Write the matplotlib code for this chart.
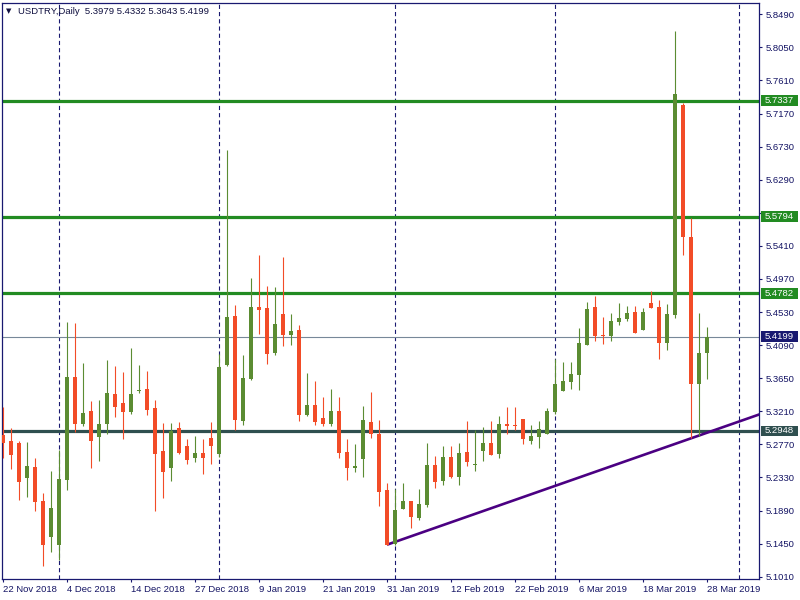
import matplotlib
matplotlib.use('Agg')
import matplotlib.pyplot as plt
import matplotlib.transforms as mtransforms
from matplotlib.patches import Rectangle
import numpy as np
import pandas as pd

plt.rcParams['font.family'] = ['Liberation Sans', 'DejaVu Sans']
plt.rcParams['lines.scale_dashes'] = False

# daily bars USDTRY, 22 Nov 2018 .. 28 Mar 2019 (no bars on 25 Dec and 1 Jan)
holidays = ['2018-12-25', '2019-01-01']
dates = pd.bdate_range('2018-11-22', '2019-03-28')
dates = dates[~dates.isin(pd.to_datetime(holidays))]

opens = [5.2895, 5.2815, 5.2788, 5.2327, 5.2469, 5.2017, 5.1542, 5.1436, 5.2300, 5.3666,
         5.3045, 5.3214, 5.2872, 5.3045, 5.3440, 5.3320, 5.3205, 5.3477, 5.3507, 5.3254,
         5.2682, 5.2460, 5.2988, 5.2749, 5.2593, 5.2655, 5.2855, 5.2646, 5.3830, 5.4477,
         5.3081, 5.3639, 5.4597, 5.4584, 5.3985, 5.4504, 5.4225, 5.4291, 5.3161, 5.3294,
         5.3121, 5.3041, 5.3214, 5.2669, 5.2460, 5.2580, 5.3068, 5.2908, 5.2163, 5.1449,
         5.1915, 5.2017, 5.1795, 5.1968, 5.2496, 5.2287, 5.2602, 5.2340, 5.2669, 5.2500,
         5.2686, 5.2788, 5.2646, 5.3041, 5.3028, 5.3108, 5.2819, 5.2872, 5.2912, 5.3201,
         5.3484, 5.3604, 5.3697, 5.4096, 5.4597, 5.4228, 5.4215, 5.4397, 5.4438, 5.4531,
         5.4295, 5.4650, 5.4597, 5.4122, 5.4495, 5.7283, 5.5528, 5.3577, 5.3979]
highs = [5.3271, 5.2988, 5.2815, 5.2802, 5.2589, 5.2124, 5.2416, 5.2695, 5.4397, 5.4384,
         5.3852, 5.3347, 5.3360, 5.3892, 5.3812, 5.3733, 5.4052, 5.3826, 5.3746, 5.3360,
         5.3054, 5.3054, 5.3068, 5.2842, 5.2882, 5.2842, 5.3068, 5.3972, 5.6685, 5.4624,
         5.3959, 5.4982, 5.5288, 5.4876, 5.4863, 5.5262, 5.4504, 5.4358, 5.3719, 5.3613,
         5.3400, 5.3506, 5.3400, 5.2842, 5.2775, 5.3280, 5.3467, 5.3094, 5.2257, 5.2181,
         5.2261, 5.2017, 5.2181, 5.2788, 5.2616, 5.2749, 5.2749, 5.2788, 5.3081, 5.2961,
         5.3001, 5.3081, 5.3147, 5.3267, 5.3267, 5.3108, 5.3028, 5.3081, 5.3254, 5.3910,
         5.3870, 5.3870, 5.4318, 5.4663, 5.4743, 5.4464, 5.4517, 5.4650, 5.4610, 5.4610,
         5.4584, 5.4810, 5.4690, 5.4637, 5.8267, 5.7310, 5.5780, 5.4517, 5.4332]
lows = [5.2593, 5.2447, 5.2034, 5.2074, 5.1888, 5.1157, 5.1343, 5.1237, 5.2167, 5.2939,
        5.3018, 5.2460, 5.2553, 5.2912, 5.3138, 5.2846, 5.3178, 5.3457, 5.3165, 5.1888,
        5.2061, 5.2287, 5.2646, 5.2513, 5.2540, 5.2380, 5.2513, 5.2606, 5.3817, 5.2961,
        5.3028, 5.3626, 5.4238, 5.3839, 5.3959, 5.4078, 5.4092, 5.3081, 5.3147, 5.3028,
        5.3014, 5.3014, 5.2593, 5.2300, 5.2407, 5.2340, 5.2859, 5.1955, 5.1436, 5.1436,
        5.1915, 5.1662, 5.1768, 5.1941, 5.2194, 5.2234, 5.2327, 5.2234, 5.2487, 5.2420,
        5.2553, 5.2633, 5.2593, 5.2912, 5.2965, 5.2779, 5.2779, 5.2726, 5.2912, 5.3180,
        5.3484, 5.3510, 5.3497, 5.4096, 5.4149, 5.4109, 5.4149, 5.4358, 5.4411, 5.4255,
        5.4295, 5.4588, 5.3910, 5.4029, 5.4455, 5.5292, 5.2860, 5.2880, 5.3643]
closes = [5.2792, 5.2633, 5.2274, 5.2483, 5.2008, 5.1436, 5.1924, 5.2310, 5.3666, 5.3045,
          5.3187, 5.2819, 5.3041, 5.3453, 5.3271, 5.3205, 5.3440, 5.3480, 5.3231, 5.2646,
          5.2407, 5.2948, 5.2659, 5.2566, 5.2655, 5.2593, 5.2753, 5.3799, 5.4464, 5.3094,
          5.3653, 5.4597, 5.4557, 5.3972, 5.4371, 5.4225, 5.4278, 5.3161, 5.3294, 5.3068,
          5.3041, 5.3214, 5.2659, 5.2460, 5.2483, 5.3094, 5.2912, 5.2141, 5.1436, 5.1898,
          5.2017, 5.1809, 5.1977, 5.2496, 5.2274, 5.2602, 5.2340, 5.2655, 5.2540, 5.2509,
          5.2788, 5.2633, 5.3041, 5.3018, 5.3018, 5.2846, 5.2882, 5.2975, 5.3214, 5.3573,
          5.3613, 5.3706, 5.4118, 5.4570, 5.4215, 5.4215, 5.4411, 5.4451, 5.4517, 5.4255,
          5.4531, 5.4588, 5.4122, 5.4504, 5.7430, 5.5532, 5.3577, 5.3989, 5.4199]

resistance_levels = [5.7337, 5.5794, 5.4782]
support_level = 5.2948
trend_dates = ['2019-01-31', '2019-03-28']
trend_prices = [5.1436, 5.2925]
price_ticks = [5.1010, 5.1450, 5.1890, 5.2330, 5.2770, 5.3210, 5.3650, 5.4090, 5.4530,
               5.4970, 5.5410, 5.5850, 5.6290, 5.6730, 5.7170, 5.7610, 5.8050, 5.8490]
date_labels = ['22 Nov 2018', '4 Dec 2018', '14 Dec 2018', '27 Dec 2018', '9 Jan 2019',
               '21 Jan 2019', '31 Jan 2019', '12 Feb 2019', '22 Feb 2019', '6 Mar 2019',
               '18 Mar 2019', '28 Mar 2019']
month_starts = ['2018-12-01', '2019-01-01', '2019-02-01', '2019-03-01', '2019-04-01']

bull = '#5b8c32'
bear = '#f24c27'
navy = '#191970'
txt = '#141464'

o = np.array(opens); h = np.array(highs); l = np.array(lows); c = np.array(closes)
x = np.arange(len(dates))
cols = np.where(c >= o, bull, bear)

def bar_pos(d):
    d = pd.Timestamp(d)
    if d <= dates[-1]:
        return int(np.searchsorted(dates, d))
    # future area: calendar days after the last bar
    return len(dates) - 1 + (d - dates[-1]).days

fig = plt.figure(figsize=(8, 6), dpi=100)
ax = fig.add_axes([2 / 800, 20.7 / 600, 757 / 800, 576.6 / 600])
ax.set_xlim(-0.125, 94.5)
ax.set_ylim(5.09759, 5.86435)

# month separators
for m in month_starts:
    ax.axvline(bar_pos(m), color=navy, lw=0.8, dashes=(3, 2.2), zorder=1)

# levels
for lv in resistance_levels:
    ax.axhline(lv, color='#228b22', lw=2.3, zorder=2)
ax.axhline(support_level, color='#2f4f4f', lw=2.3, zorder=2)
ax.axhline(closes[-1], color='#778899', lw=0.8, zorder=2)

# trend line (ray to the right)
tx = [bar_pos(d) for d in trend_dates]
slope = (trend_prices[1] - trend_prices[0]) / (tx[1] - tx[0])
ax.plot([tx[0], 95], [trend_prices[0], trend_prices[0] + slope * (95 - tx[0])],
        color='#4b0082', lw=1.9, zorder=2, solid_capstyle='butt')

# candles
ax.vlines(x, l, h, colors=cols, lw=0.8, zorder=3)
body_lo = np.minimum(o, c)
body_h = np.maximum(np.abs(c - o), 0.0014)
ax.bar(x, body_h, bottom=body_lo, width=0.62, color=cols, linewidth=0, zorder=4)

# axes look
for s in ax.spines.values():
    s.set_color(navy)
    s.set_linewidth(0.9)
ax.yaxis.tick_right()
# a label hidden under a price tag is left blank, as in the terminal
tag_prices = resistance_levels + [support_level]
ylabels = ['' if any(abs(p - t) < 0.007 for t in tag_prices) else f'{p:.4f}'
           for p in price_ticks]
ax.set_yticks(price_ticks, ylabels)
ax.tick_params(axis='y', length=2.3, width=0.8, color=navy, pad=2.5, labelsize=6.8,
               labelcolor=txt)
label_pos = [bar_pos(pd.Timestamp(d)) for d in date_labels]
ax.set_xticks(label_pos, date_labels)
for t in ax.get_xticklabels():
    t.set_horizontalalignment('left')
ax.tick_params(axis='x', length=2.3, width=0.8, color=navy, pad=1.5, labelsize=6.8,
               labelcolor=txt)

# price tags on the right scale
tr = mtransforms.blended_transform_factory(ax.transAxes, ax.transData)
tags = [(lv, '#228b22') for lv in resistance_levels]
tags += [(closes[-1], navy), (support_level, '#2f4f4f')]
for lv, col in tags:
    ax.add_patch(Rectangle((1 + 2 / 757, lv - 0.0073), 37 / 757, 0.0146, transform=tr,
                           facecolor=col, edgecolor='none', clip_on=False, zorder=5))
    ax.text(1 + 6 / 757, lv, f'{lv:.4f}', transform=tr, ha='left', va='center',
            fontsize=6.8, color='white', clip_on=False, zorder=6)

# header
fig.text(6 / 800, 1 - 11 / 600, '▼', fontsize=5, color='#101040', va='center',
         family='DejaVu Sans')
fig.text(18 / 800, 1 - 11 / 600,
         f'USDTRY,Daily  {opens[-1]:.4f} {highs[-1]:.4f} {lows[-1]:.4f} {closes[-1]:.4f}',
         fontsize=6.8, color='#101040', va='center')

fig.savefig('out.png', dpi=100)
